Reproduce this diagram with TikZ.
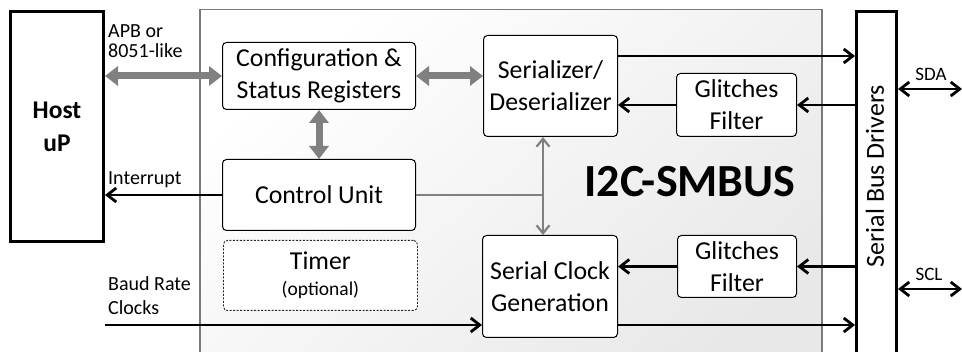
\documentclass[tikz,border=0pt]{standalone}
\usepackage{fontspec}
\setmainfont{Carlito}
\usetikzlibrary{arrows.meta,calc}
\definecolor{arrgray}{HTML}{808080}
\definecolor{frame}{HTML}{7A7A7A}
\begin{document}
\begin{tikzpicture}[x=1pt,y=-1pt,
  box/.style={draw=black, line width=1pt, rounded corners=4pt, fill=white, anchor=north west,
    inner sep=0pt, align=center, font=\fontsize{25.8}{32}\selectfont},
  dbox/.style={box, draw=black!85, line width=0.9pt, dash pattern=on 2pt off 1.5pt},
  thick box/.style={draw=black, line width=3pt, fill=white, anchor=north west, inner sep=0pt, align=center},
  arr/.style={line width=2.8pt, -{Straight Barb[length=9pt,width=14pt]}},
  darr/.style={line width=2.8pt, {Straight Barb[length=9pt,width=14pt]}-{Straight Barb[length=9pt,width=14pt]}},
  bigarr/.style={draw=arrgray, line width=7pt, {Triangle[length=13pt,width=19pt]}-{Triangle[length=13pt,width=19pt]}},
  garr/.style={draw=arrgray, line width=2.2pt, {Straight Barb[length=8pt,width=13pt]}-{Straight Barb[length=8pt,width=13pt]}},
  lbl/.style={inner sep=0pt, align=left, anchor=north west},
]
\useasboundingbox (0,0) rectangle (962,352);
\clip (0,0) rectangle (962,352);
% main block
\node[anchor=north west, draw=frame, line width=1.5pt, inner sep=0pt, minimum width=622pt, minimum height=380pt,
  top color=white, bottom color=black!9, shading angle=40] (main) at (199,9) {};
\node[thick box, minimum width=93pt, minimum height=230pt, font=\bfseries\fontsize{25.5}{33}\selectfont] (host) at (9,10) {Host\\uP};
\node[thick box, minimum width=40pt, minimum height=380pt] (bus) at (855,10) {};
\node[rotate=90, inner sep=0pt, font=\fontsize{26}{30}\selectfont] (bustxt) at (875,176) {Serial Bus Drivers};

\node[box, minimum width=193pt, minimum height=67pt] (cfg) at (222,42) {Configuration \&\\Status Registers};
\node[box, minimum width=193pt, minimum height=71pt] (ctrl) at (222,159) {Control Unit};
\node[dbox, minimum width=194pt, minimum height=70pt] (timer) at (223,240) {Timer\\[-6pt]{\fontsize{19.5}{22}\selectfont (optional)}};
\node[box, minimum width=134pt, minimum height=101pt] (ser) at (483,35) {Serializer/\\Deserializer};
\node[box, minimum width=120pt, minimum height=63pt] (gf1) at (676,73) {Glitches\\Filter};
\node[box, minimum width=135pt, minimum height=102pt] (scg) at (482,235) {Serial Clock\\Generation};
\node[box, minimum width=119pt, minimum height=62pt] (gf2) at (677,235) {Glitches\\Filter};

\node[inner sep=0pt, font=\bfseries\fontsize{46}{50}\selectfont] (title) at (690,182) {I2C-SMBUS};

% labels
\node[lbl, font=\fontsize{20}{20}\selectfont] (apb) at (108,24) {APB or\\8051-like};
\node[lbl, font=\fontsize{20}{22}\selectfont] (intl) at (108,171) {Interrupt};
\node[lbl, font=\fontsize{20}{24}\selectfont] (baud) at (108,276) {Baud Rate\\Clocks};
\node[inner sep=0pt, font=\fontsize{19}{20}\selectfont] (sdal) at (931,74) {SDA};
\node[inner sep=0pt, font=\fontsize{19}{20}\selectfont] (scll) at (929,274) {SCL};

% gray bus arrows
\draw[bigarr] (cfg.west -| host.east) -- (cfg.west);
\draw[bigarr] (cfg.east) -- (cfg.east -| ser.west);
\draw[bigarr] (cfg.south) -- (ctrl.north);

% control to serdes / clock gen
\coordinate (j) at (543,194);
\draw[draw=arrgray, line width=2.2pt] (ctrl.east) -- (ctrl.east -| j);
\draw[garr] (ser.south -| j) -- (scg.north -| j);

% interrupt
\draw[arr] (ctrl.west) -- (ctrl.west -| host.east);

% data path
\draw[arr] ([yshift=-21pt]ser.north east) coordinate (a1) -- (a1 -| bus.west);
\draw[arr] (gf1.east -| bus.west) -- (gf1.east);
\draw[arr] (gf1.west) -- (gf1.west -| ser.east);
\draw[arr] (gf2.east -| bus.west) -- (gf2.east);
\draw[arr] (gf2.west) -- (gf2.west -| scg.east);
\draw[arr] ([yshift=13pt]scg.south east) coordinate (a2) -- (a2 -| bus.west);
\coordinate (b) at ([yshift=13pt]scg.south west);
\draw[arr] (b -| host.east) -- (b);

% SDA / SCL
\coordinate (sdae) at (962,89);
\coordinate (scle) at (962,289);
\draw[darr] (bus.east |- sdae) -- (sdae);
\draw[darr] (bus.east |- scle) -- (scle);
\end{tikzpicture}
\end{document}
